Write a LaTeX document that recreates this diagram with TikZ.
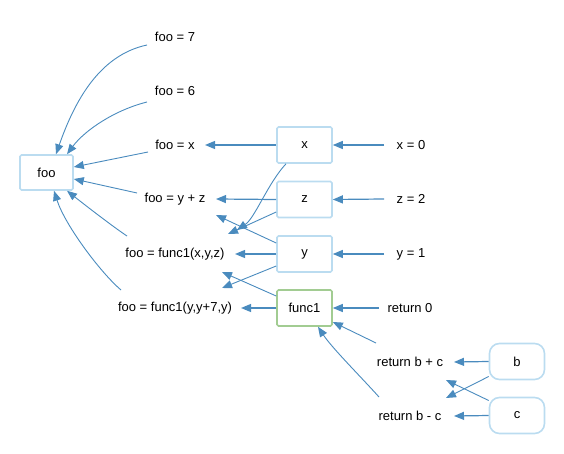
\documentclass[tikz,border=0pt]{standalone}
\usepackage{fontspec}
\setmainfont{Liberation Sans}
\usetikzlibrary{arrows.meta,calc}
\definecolor{edgec}{HTML}{4A8BBE}
\definecolor{boxc}{HTML}{BBDCF0}
\definecolor{greenc}{HTML}{A2CC92}
\tikzset{
  lbl/.style={inner sep=0pt, font=\fontsize{13pt}{15pt}\selectfont},
  varbox/.style={draw=boxc, line width=1.6pt, rounded corners=1.5pt, minimum width=55pt, minimum height=36pt, inner sep=0pt, font=\fontsize{13pt}{15pt}\selectfont},
  fnbox/.style={varbox, draw=greenc},
  argbox/.style={varbox, rounded corners=10pt},
  conn/.style={draw=edgec, line width=0.9pt, -{Triangle[length=10pt,width=8pt]}, color=edgec},
  hconn/.style={conn, line width=1.2pt},
}
\begin{document}
\begin{tikzpicture}[x=1pt,y=-1pt]
\useasboundingbox (0,0) rectangle (564,454);
% nodes
\node[varbox, minimum width=53pt, minimum height=35pt] (foo) at (46.5,172.5) {foo};
\node[lbl] (l7) at (175,37) {foo = 7};
\node[lbl] (l6) at (175,91) {foo = 6};
\node[lbl] (lx) at (175,145) {foo = x};
\node[lbl] (lyz) at (175,199) {foo = y + z};
\node[lbl] (lf1) at (175,254) {foo = func1(x,y,z)};
\node[lbl] (lf2) at (175,308) {foo = func1(y,y+7,y)};
\node[varbox] (x) at (304.5,145) {x};
\node[varbox] (z) at (304.5,199.5) {z};
\node[varbox] (y) at (304.5,254) {y};
\node[fnbox] (f) at (304.5,308) {func1};
\node[lbl] (rx) at (411,145) {x = 0};
\node[lbl] (rz) at (411,199) {z = 2};
\node[lbl] (ry) at (411,254) {y = 1};
\node[lbl] (rr0) at (410,308) {return 0};
\node[lbl] (rbc) at (410,362) {return b + c};
\node[lbl] (rbm) at (410,416) {return b - c};
\node[argbox] (b) at (517,361.5) {b};
\node[argbox] (c) at (517,415.5) {c};
% edges into foo
\draw[conn] ($(l7)+(-28,8)$) .. controls (100,55) and (75,100) .. ($(foo.north)+(9.5,0)$);
\draw[conn] ($(l6)+(-28,11)$) .. controls (115,110) and (85,130) .. ($(foo.north)+(20.5,0)$);
\draw[conn] ($(lx)+(-27,7)$) -- ($(foo.east)+(0,-5.5)$);
\draw[conn] ($(lyz)+(-38,-6)$) -- ($(foo.east)+(0,6.5)$);
\draw[conn] ($(lf1)+(-48,-18)$) .. controls (112,226) and (85,205) .. ($(foo.south)+(20.5,0)$);
\draw[conn] ($(lf2)+(-54,-18)$) .. controls (100,272) and (65,225) .. ($(foo.south)+(7.5,0)$);
% from x, z, y, func1
\draw[hconn] (x.west) -- ($(lx)+(30,0)$);
\draw[conn] ($(x.south)+(-18.5,0)$) .. controls (268,183) and (255,218) .. ($(lf1)+(62,-24)$);
\draw[hconn] (z.west) -- ($(lyz)+(41,0)$);
\draw[conn] ($(z.west)+(0,12.5)$) -- ($(lf1)+(53,-20)$);
\draw[conn] ($(y.west)+(0,-11)$) -- ($(lyz)+(41,16)$);
\draw[hconn] (y.west) -- ($(lf1)+(60,0)$);
\draw[conn] ($(y.west)+(0,12)$) -- ($(lf2)+(47,-20)$);
\draw[conn] ($(f.west)+(0,-12)$) -- ($(lf1)+(47,18)$);
\draw[hconn] (f.west) -- ($(lf2)+(66,0)$);
% right column into boxes
\draw[hconn] ($(rx)+(-27,0)$) -- (x.east);
\draw[hconn] ($(rz)+(-27,0)$) -- (z.east);
\draw[hconn] ($(ry)+(-27,0)$) -- (y.east);
\draw[hconn] ($(rr0)+(-31,0)$) -- (f.east);
\draw[conn] ($(rbc)+(-34,-19)$) -- ($(f.east)+(0,14)$);
\draw[conn] ($(rbm)+(-31,-19)$) .. controls (362,378) and (332,348) .. ($(f.south)+(13.5,0)$);
% b, c
\draw[hconn] (b.west) -- ($(rbc)+(44,0)$);
\draw[conn] ($(b.west)+(0,15)$) -- ($(rbm)+(36,-18)$);
\draw[conn] ($(c.west)+(0,-15)$) -- ($(rbc)+(36,18)$);
\draw[hconn] (c.west) -- ($(rbm)+(44,0)$);
\end{tikzpicture}
\end{document}
